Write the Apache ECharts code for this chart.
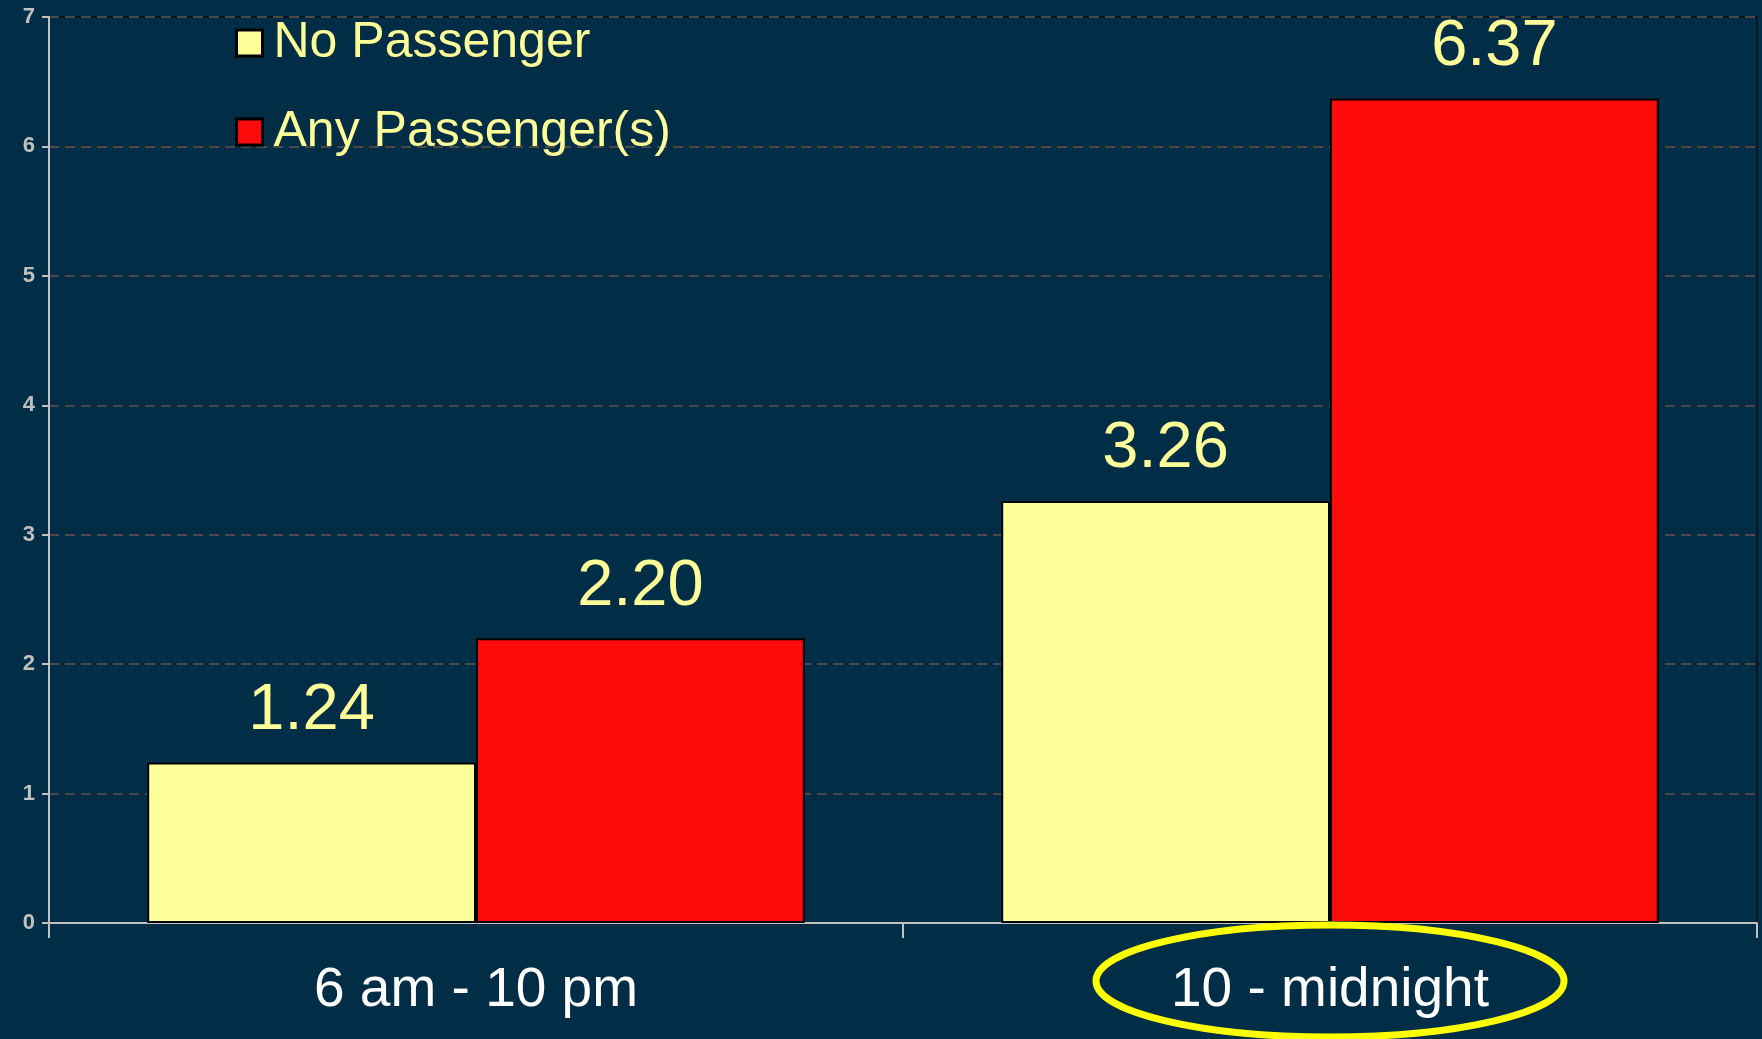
<!DOCTYPE html>
<html>
<head>
<meta charset="utf-8">
<script src="https://cdn.jsdelivr.net/npm/echarts@6/dist/echarts.min.js"></script>
<style>
html,body{margin:0;padding:0;background:#012d46;}
#c{width:1762px;height:1039px;}
</style>
</head>
<body>
<div id="c"></div>
<script>
var categories = ['6 am - 10 pm', '10 - midnight'];
var seriesNames = ['No Passenger', 'Any Passenger(s)'];
var noPassenger = [1.24, 3.26];
var anyPassenger = [2.20, 6.37];
var yTicks = [0, 1, 2, 3, 4, 5, 6, 7];

var chart = echarts.init(document.getElementById('c'));
var labelStyle = {
  show: true, position: 'top', distance: 19,
  color: '#ffff99', fontSize: 65, fontFamily: 'Liberation Sans, Arial, sans-serif',
  formatter: function (p) { return p.value.toFixed(2); }
};
var option = {
  backgroundColor: '#012d46',
  animation: false,
  grid: { left: 49, right: 5, top: 17, bottom: 116, show: true, borderColor: '#000', borderWidth: 1, backgroundColor: 'transparent' },
  legend: {
    orient: 'vertical', left: 230, top: 10, itemWidth: 26, itemHeight: 26, itemGap: 33,
    icon: 'rect',
    itemStyle: { borderColor: '#000', borderWidth: 3 },
    textStyle: { color: '#ffff99', fontSize: 50, lineHeight: 56, fontFamily: 'Liberation Sans, Arial, sans-serif', padding: [0, 0, 0, 6] },
    data: seriesNames
  },
  xAxis: {
    type: 'category', data: categories,
    axisLine: { lineStyle: { color: '#c0c0c0', width: 2 } },
    axisTick: { show: true, length: 15, lineStyle: { color: '#c0c0c0', width: 2 } },
    axisLabel: { color: '#ffffff', fontSize: 55, margin: 40, fontFamily: 'Liberation Sans, Arial, sans-serif' }
  },
  yAxis: {
    type: 'value', min: yTicks[0], max: yTicks[yTicks.length - 1], interval: 1,
    axisLine: { show: true, lineStyle: { color: '#c0c0c0', width: 2 } },
    axisTick: { show: true, length: 7, lineStyle: { color: '#c0c0c0', width: 2 } },
    axisLabel: { color: '#c0c0c0', fontSize: 22, fontWeight: 'bold', margin: 14, fontFamily: 'Liberation Sans, Arial, sans-serif' },
    splitLine: { lineStyle: { color: '#4a4a4a', type: [10, 6], width: 2 } }
  },
  series: [
    { name: seriesNames[0], type: 'bar', data: noPassenger, barGap: '0%', barCategoryGap: '23%',
      itemStyle: { color: '#ffff99', borderColor: '#000', borderWidth: 2 }, label: labelStyle },
    { name: seriesNames[1], type: 'bar', data: anyPassenger, barGap: '0%', barCategoryGap: '23%',
      itemStyle: { color: '#ff0a0a', borderColor: '#000', borderWidth: 2 }, label: labelStyle }
  ]
};
chart.setOption(option);
var p = chart.convertToPixel({ xAxisIndex: 0 }, categories[1]);
chart.setOption({
  graphic: [{
    type: 'ellipse', shape: { cx: p, cy: 981, rx: 234, ry: 56 },
    style: { fill: 'none', stroke: '#ffff00', lineWidth: 7 }, z: 100
  }]
});
</script>
</body>
</html>
